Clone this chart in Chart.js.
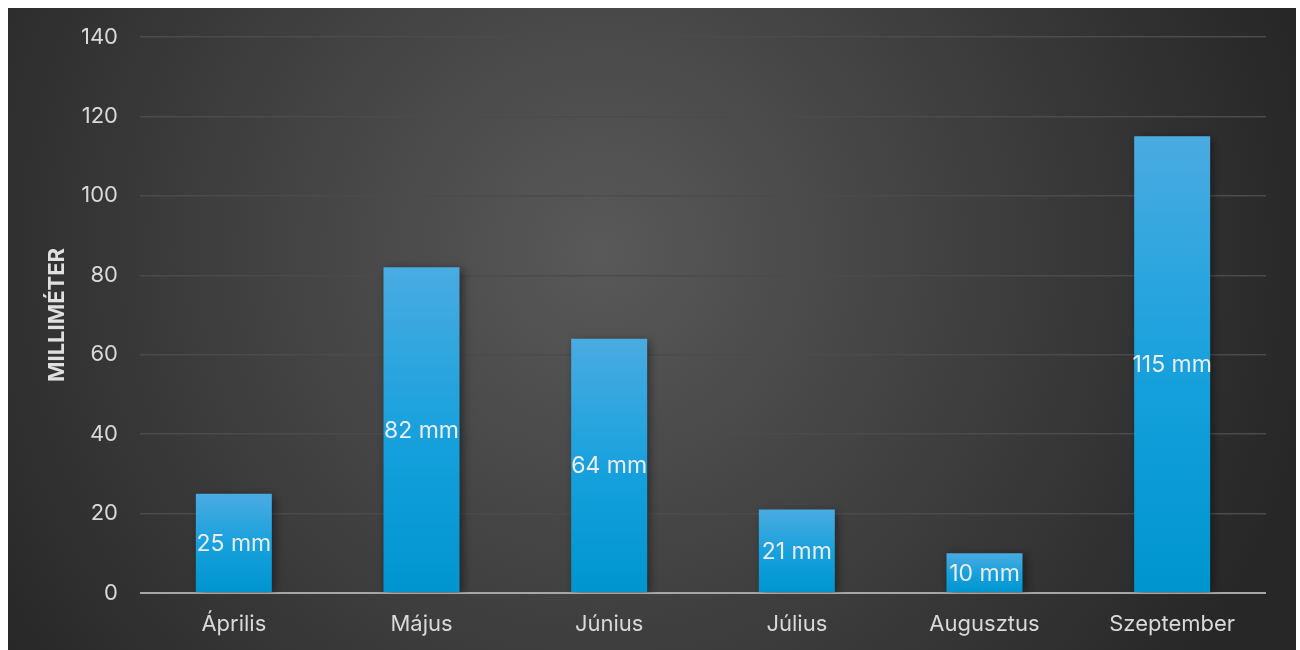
<!DOCTYPE html>
<html>
<head>
<meta charset="utf-8">
<script src="https://cdn.jsdelivr.net/npm/chart.js@4.4.1/dist/chart.umd.min.js"></script>
<style>
  html, body { margin: 0; padding: 0; background: #ffffff; }
  #wrap { position: absolute; left: 8px; top: 8px; width: 1288px; height: 642px; }
</style>
</head>
<body>
<div id="wrap"><canvas id="rainChart"></canvas></div>
<script>
// monthly rainfall
const months = ['Április', 'Május', 'Június', 'Július', 'Augusztus', 'Szeptember'];
const rainMm = [25, 82, 64, 21, 10, 115];
const yTicksMax = 140;
const yTickStep = 20;
const axisTitle = 'MILLIMÉTER';

const FONT = 'Inter, "Open Sans", "Noto Sans", sans-serif';

const backgroundPlugin = {
  id: 'bgGradient',
  beforeDraw(chart) {
    const { ctx, width, height } = chart;
    const g = ctx.createRadialGradient(width * 0.46, height * 0.38, 0, width * 0.46, height * 0.38, width * 0.56);
    g.addColorStop(0, '#595959');
    g.addColorStop(1, '#272727');
    ctx.save();
    ctx.fillStyle = g;
    ctx.fillRect(0, 0, width, height);
    ctx.restore();
  }
};

const shadowPlugin = {
  id: 'barShadow',
  beforeDatasetsDraw(chart) {
    const ctx = chart.ctx;
    ctx.save();
    ctx.shadowColor = 'rgba(0,0,0,0.45)';
    ctx.shadowBlur = 9;
    ctx.shadowOffsetX = 3;
    ctx.shadowOffsetY = 2;
  },
  afterDatasetsDraw(chart) {
    chart.ctx.restore();
  }
};

const labelPlugin = {
  id: 'barLabels',
  afterDatasetsDraw(chart) {
    const ctx = chart.ctx;
    const meta = chart.getDatasetMeta(0);
    ctx.save();
    ctx.font = '23px ' + FONT;
    ctx.fillStyle = '#ececec';
    ctx.textAlign = 'center';
    ctx.textBaseline = 'middle';
    meta.data.forEach((bar, i) => {
      const y = (bar.y + bar.base) / 2;
      ctx.fillText(rainMm[i] + ' mm', bar.x, y + 1);
    });
    ctx.restore();
  }
};

// gradient per bar, from its top to the baseline
function barGradient(context) {
  const chart = context.chart;
  const y = chart.scales && chart.scales.y;
  if (!chart.chartArea || !y || context.raw == null) return '#1aa0dc';
  const top = y.getPixelForValue(context.raw);
  const bottom = y.getPixelForValue(0);
  const g = chart.ctx.createLinearGradient(0, top, 0, bottom);
  g.addColorStop(0, '#4aabe1');
  g.addColorStop(0.55, '#14a0dc');
  g.addColorStop(1, '#0095cf');
  return g;
}

new Chart(document.getElementById('rainChart'), {
  type: 'bar',
  data: {
    labels: months,
    datasets: [{
      label: 'Csapadék',
      data: rainMm,
      backgroundColor: barGradient,
      borderWidth: 0,
      categoryPercentage: 1,
      barPercentage: 0.405
    }]
  },
  options: {
    responsive: true,
    maintainAspectRatio: false,
    animation: false,
    layout: { padding: { top: 29, right: 30, bottom: 0, left: 0 } },
    plugins: {
      legend: { display: false },
      tooltip: { enabled: false }
    },
    scales: {
      x: {
        grid: { display: false, drawTicks: false },
        border: { display: false },
        ticks: { color: '#d9d9d9', font: { family: FONT, size: 22 }, padding: 18 },
        afterFit(scale) { scale.height = 57; }
      },
      y: {
        min: 0,
        max: yTicksMax,
        grid: {
          drawTicks: false,
          color: ctx => ctx.tick && ctx.tick.value === 0 ? '#a6a6a6' : '#4b4b4b',
          lineWidth: ctx => ctx.tick && ctx.tick.value === 0 ? 2 : 1.5
        },
        border: { display: false },
        ticks: {
          stepSize: yTickStep,
          color: '#d9d9d9',
          font: { family: FONT, size: 22 },
          padding: 22
        },
        title: {
          display: true,
          text: axisTitle,
          color: '#e0e0e0',
          font: { family: FONT, size: 22, weight: 'bold' },
          padding: { top: 36, bottom: 0 }
        },
        afterFit(scale) {
          scale.width = 132;
          scale.paddingTop = 0;
          scale.paddingBottom = 0;
        }
      }
    }
  },
  plugins: [backgroundPlugin, shadowPlugin, labelPlugin]
});
</script>
</body>
</html>
